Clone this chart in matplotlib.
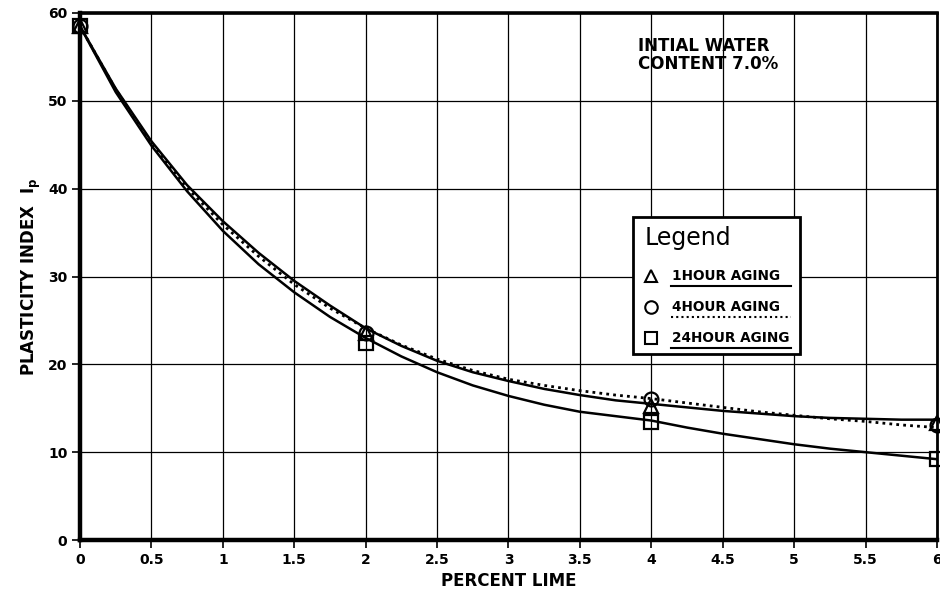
import matplotlib
matplotlib.use("Agg")
import matplotlib.pyplot as plt
from matplotlib.patches import Rectangle
from matplotlib.lines import Line2D

plt.rcParams['font.family'] = ['DejaVu Sans']
plt.rcParams['font.weight'] = 'bold'

# measured points
x_pts = [0, 2, 4, 6]
tri_vals = [58.5, 23.6, 15.2, 13.3]     # 1 hour aging
circ_vals = [58.5, 23.6, 16.0, 13.1]    # 4 hour aging
sq_vals = [58.5, 22.4, 13.4, 9.2]       # 24 hour aging

# fitted curves
x_curve = [0, 0.25, 0.5, 0.75, 1, 1.25, 1.5, 1.75, 2, 2.25, 2.5, 2.75, 3,
           3.25, 3.5, 3.75, 4, 4.25, 4.5, 4.75, 5, 5.25, 5.5, 5.75, 6]
curve_1h = [58.5, 51.4, 45.4, 40.4, 36.3, 32.7, 29.5, 26.7, 24.1, 22.1, 20.4, 19.1, 18.1,
            17.2, 16.5, 15.9, 15.5, 15.1, 14.7, 14.4, 14.1, 13.9, 13.8, 13.7, 13.7]
curve_4h = [58.5, 51.3, 45.2, 40.1, 35.9, 32.3, 29.1, 26.4, 24.1, 22.2, 20.6, 19.3, 18.3,
            17.6, 17.0, 16.5, 16.1, 15.6, 15.1, 14.6, 14.2, 13.8, 13.5, 13.1, 12.8]
curve_24h = [58.5, 51.0, 44.9, 39.7, 35.2, 31.4, 28.2, 25.4, 23.0, 20.9, 19.1, 17.6, 16.4,
             15.4, 14.6, 14.1, 13.6, 12.8, 12.1, 11.5, 10.9, 10.4, 10.0, 9.6, 9.2]

x_ticks = [0, 0.5, 1, 1.5, 2, 2.5, 3, 3.5, 4, 4.5, 5, 5.5, 6]
x_tick_labels = ['0', '0.5', '1', '1.5', '2', '2.5', '3', '3.5', '4', '4.5', '5', '5.5', '6']
y_ticks = [0, 10, 20, 30, 40, 50, 60]
legend_labels = ['1HOUR AGING', '4HOUR AGING', '24HOUR AGING']

fig = plt.figure(figsize=(9.4, 5.95), dpi=100)
ax = fig.add_axes([80/940, 55/595, 857/940, 527/595])

ax.set_xlim(0, 6)
ax.set_ylim(0, 60)
ax.set_xticks(x_ticks)
ax.set_xticklabels(x_tick_labels)
ax.set_yticks(y_ticks)
ax.grid(True, color='black', linewidth=0.9)
ax.set_axisbelow(True)

for side in ['left', 'bottom']:
    ax.spines[side].set_linewidth(3.2)
ax.spines['top'].set_linewidth(2.6)
ax.spines['right'].set_linewidth(2.0)

ax.tick_params(axis='both', direction='out', length=6, width=1.2, labelsize=10, pad=3)
for lab in ax.get_xticklabels() + ax.get_yticklabels():
    lab.set_fontweight('bold')

ax.plot(x_curve, curve_1h, color='black', linewidth=1.8, zorder=3)
ax.plot(x_curve, curve_4h, color='black', linewidth=2.0, linestyle=(0, (1, 1.5)), zorder=3)
ax.plot(x_curve, curve_24h, color='black', linewidth=1.8, zorder=3)

mk = dict(markersize=10, markerfacecolor='none', markeredgecolor='black',
          markeredgewidth=1.6, linestyle='none', zorder=4, clip_on=False)
ax.plot(x_pts, tri_vals, marker='^', **mk)
ax.plot(x_pts, circ_vals, marker='o', **mk)
ax.plot(x_pts, sq_vals, marker='s', **mk)

ax.set_xlabel('PERCENT LIME', fontsize=12, fontweight='bold', labelpad=4)
ax.set_ylabel(r'PLASTICITY INDEX  I$_\mathregular{p}$', fontsize=12, fontweight='bold', labelpad=4)

ax.text(0.651, 0.955, 'INTIAL WATER\nCONTENT 7.0%', transform=ax.transAxes,
        fontsize=12, fontweight='bold', va='top', ha='left', linespacing=1.05)

# legend box drawn by hand
bx0, by0, bw, bh = (633-80)/857, (540-354)/527, (800-633)/857, (354-217)/527
ax.add_patch(Rectangle((bx0, by0), bw, bh, transform=ax.transAxes,
                       facecolor='white', edgecolor='black', linewidth=2, zorder=5))
ax.text(bx0 + 12/857, (540-238)/527, 'Legend', transform=ax.transAxes,
        fontsize=17, fontweight='normal', va='center', ha='left', zorder=6)
markers = ['^', 'o', 's']
ys = [(540-276)/527, (540-307)/527, (540-338)/527]
ustyles = ['-', (0, (1, 1.5)), '-']
for m, yy, lab, us in zip(markers, ys, legend_labels, ustyles):
    ax.plot([bx0 + 18/857], [yy], marker=m, markersize=9, markerfacecolor='none',
            markeredgecolor='black', markeredgewidth=1.5, transform=ax.transAxes,
            zorder=6, clip_on=False)
    ax.text(bx0 + 39/857, yy, lab, transform=ax.transAxes, fontsize=9.8,
            fontweight='bold', va='center', ha='left', zorder=6)
    ax.add_line(Line2D([bx0 + 38/857, bx0 + 158/857], [yy - 10/527, yy - 10/527],
                       transform=ax.transAxes, color='black', linewidth=1.5,
                       linestyle=us, zorder=6))

fig.savefig('out.png', dpi=100)
